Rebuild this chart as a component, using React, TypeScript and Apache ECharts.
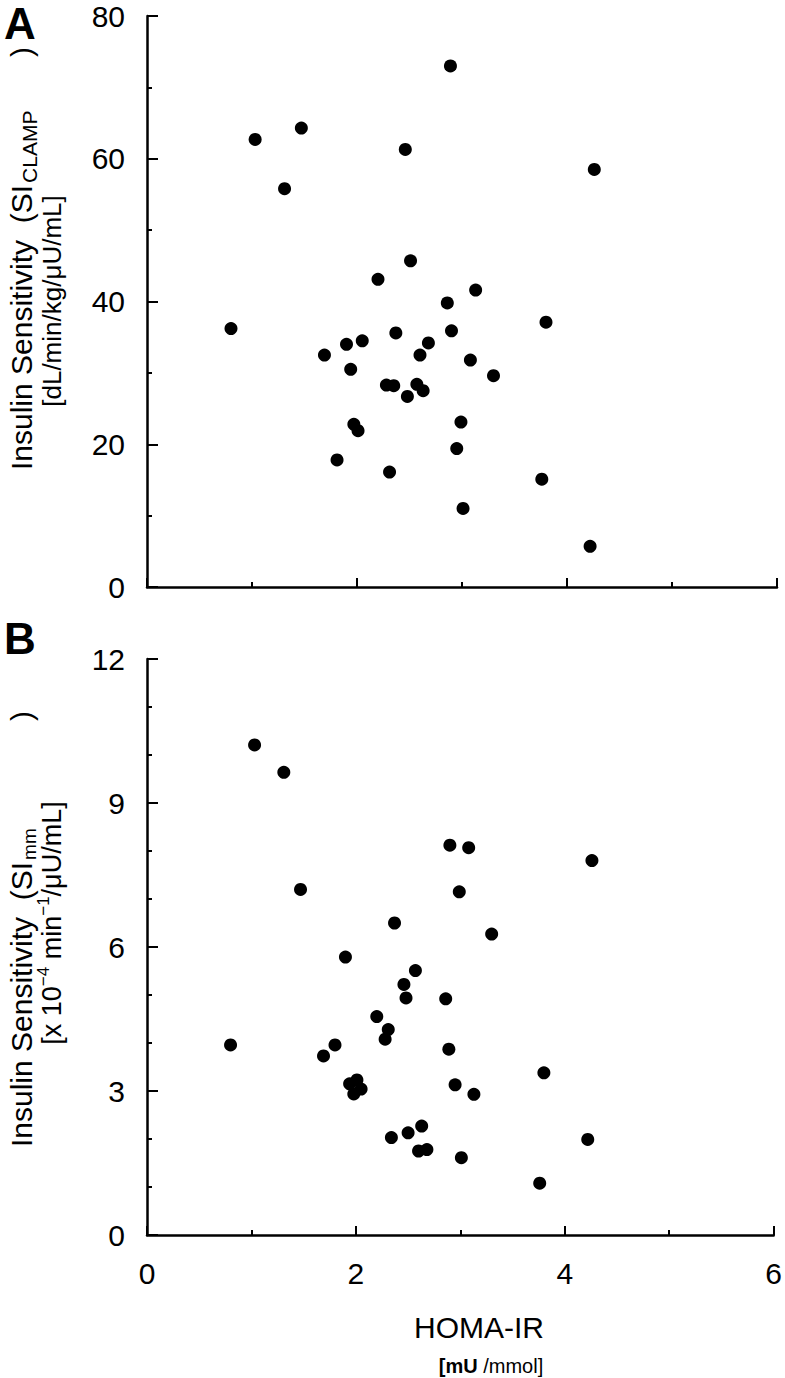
import React, { useEffect, useRef } from "react";
import * as echarts from "echarts";

// Panel A: HOMA-IR vs SI(clamp)
const homaA = [2.89, 1.03, 1.47, 2.46, 1.31, 4.26, 2.51, 2.2, 3.13, 2.86, 3.8, 0.8, 2.9, 2.37, 2.05, 1.9, 2.68, 1.69, 2.6, 3.08, 1.94, 3.3, 2.28, 2.35, 2.57, 2.63, 2.48, 1.97, 2.01, 2.99, 2.95, 1.81, 2.31, 3.76, 3.01, 4.22];
const siClamp = [73.0, 62.7, 64.3, 61.3, 55.8, 58.5, 45.7, 43.1, 41.6, 39.8, 37.1, 36.2, 35.9, 35.6, 34.5, 34.0, 34.2, 32.5, 32.5, 31.8, 30.5, 29.6, 28.3, 28.2, 28.4, 27.5, 26.7, 22.8, 21.9, 23.1, 19.4, 17.8, 16.1, 15.1, 11.0, 5.7];

// Panel B: HOMA-IR vs SI(mm)
const homaB = [1.03, 1.31, 2.9, 3.08, 2.99, 1.47, 2.37, 3.3, 1.9, 4.26, 3.8, 4.22, 3.76, 2.57, 2.46, 2.48, 2.86, 2.2, 2.31, 2.28, 0.8, 1.8, 1.69, 2.89, 1.94, 2.01, 2.05, 1.98, 2.95, 3.13, 2.63, 2.5, 2.34, 2.6, 2.68, 3.01];
const siMM = [10.21, 9.64, 8.12, 8.07, 7.15, 7.2, 6.5, 6.27, 5.79, 7.8, 3.38, 1.99, 1.08, 5.51, 5.22, 4.94, 4.92, 4.55, 4.28, 4.08, 3.96, 3.96, 3.73, 3.87, 3.15, 3.23, 3.04, 2.94, 3.13, 2.93, 2.27, 2.13, 2.03, 1.75, 1.78, 1.61];

const xRange = [0, 6];
const xStep = 2;
const yRangeA = [0, 80];
const yStepA = 20;
const yRangeB = [0, 12];
const yStepB = 3;

const FONT = '"Liberation Sans", Arial, Helvetica, sans-serif';

function measure(text: string, size: number, weight = "normal") {
  const c = document.createElement("canvas").getContext("2d")!;
  c.font = `${weight} ${size}px ${FONT}`;
  return c.measureText(text).width;
}

export default function App() {
  const ref = useRef<HTMLDivElement>(null);

  useEffect(() => {
    if (!ref.current) return;
    const chart = echarts.init(ref.current, undefined, { renderer: "svg" });

    const axisLine = { show: true, lineStyle: { color: "#000", width: 2.5 } };
    const label = { color: "#000", fontSize: 30, lineHeight: 26, fontFamily: FONT };

    const mkX = (gridIndex: number, showLabel: boolean) => ({
      type: "value",
      gridIndex,
      min: xRange[0],
      max: xRange[1],
      interval: xStep,
      axisLine,
      axisTick: { show: true, inside: true, length: 9, lineStyle: { color: "#000", width: 2 } },
      minorTick: { show: true, splitNumber: 2, length: 5, lineStyle: { color: "#000", width: 2 } },
      splitLine: { show: false },
      axisLabel: { ...label, show: showLabel, margin: 25 },
    });
    const mkY = (gridIndex: number, range: number[], step: number, minorSplit: number) => ({
      type: "value",
      gridIndex,
      min: range[0],
      max: range[1],
      interval: step,
      axisLine,
      axisTick: { show: true, inside: true, length: 11, lineStyle: { color: "#000", width: 2 } },
      minorTick: { show: true, splitNumber: minorSplit, length: 5, lineStyle: { color: "#000", width: 2 } },
      splitLine: { show: false },
      axisLabel: { ...label, margin: 22 },
    });

    const t = (text: string, x: number, y: number, size: number, extra: any = {}) => ({
      type: "text",
      x,
      y,
      style: { text, fontSize: size, fontFamily: FONT, fill: "#000", align: "left", verticalAlign: "middle", ...extra },
    });

    const l1 = "Insulin Sensitivity  (SI";
    const w1 = measure(l1, 30);

    const titleA1 = {
      type: "group",
      x: 21,
      y: 470,
      rotation: Math.PI / 2,
      children: [
        t(l1, 0, 0, 30),
        t("CLAMP", w1 + 2, 8, 21),
        t(")", 470 - 52, 0, 30, { align: "center" }),
      ],
    };
    const titleA2 = {
      type: "text",
      x: 52,
      y: 301,
      rotation: Math.PI / 2,
      style: { text: "[dL/min/kg/\u03bcU/mL]", fontSize: 26, fontFamily: FONT, fill: "#000", align: "center", verticalAlign: "middle" },
    };

    const titleB1 = {
      type: "group",
      x: 21,
      y: 1147,
      rotation: Math.PI / 2,
      children: [
        t(l1, 0, 0, 30),
        t("mm", w1 + 2, 8, 19),
        t(")", 1147 - 716, 0, 30, { align: "center" }),
      ],
    };

    const b2parts: Array<[string, number, number]> = [
      ["[x 10", 27, 0],
      ["\u22124", 17, -9],
      [" min", 27, 0],
      ["\u22121", 17, -9],
      ["/\u03bcU/mL]", 27, 0],
    ];
    let acc = 0;
    const b2children = b2parts.map(([s, size, dy]) => {
      const el = t(s, acc, dy, size);
      acc += measure(s, size);
      return el;
    });
    const titleB2 = {
      type: "group",
      x: 52,
      y: 923 + acc / 2,
      rotation: Math.PI / 2,
      children: b2children,
    };

    const scatterStyle = { color: "#000", opacity: 1 };

    chart.setOption({
      animation: false,
      backgroundColor: "#fff",
      grid: [
        { left: 147, top: 16, width: 630, height: 571 },
        { left: 147, top: 659, width: 630, height: 576 },
      ],
      xAxis: [mkX(0, false), mkX(1, true)],
      yAxis: [mkY(0, yRangeA, yStepA, 2), mkY(1, yRangeB, yStepB, 3)],
      series: [
        {
          type: "scatter",
          xAxisIndex: 0,
          yAxisIndex: 0,
          symbol: "circle",
          symbolSize: 13,
          itemStyle: scatterStyle,
          data: homaA.map((x, i) => [x, siClamp[i]]),
        },
        {
          type: "scatter",
          xAxisIndex: 1,
          yAxisIndex: 1,
          symbol: "circle",
          symbolSize: 13,
          itemStyle: scatterStyle,
          data: homaB.map((x, i) => [x, siMM[i]]),
        },
      ],
      graphic: [
        { type: "text", x: 4, y: 23, style: { text: "A", fontSize: 44, fontWeight: "bold", fontFamily: FONT, fill: "#000", verticalAlign: "middle" } },
        { type: "text", x: 4, y: 638, style: { text: "B", fontSize: 44, fontWeight: "bold", fontFamily: FONT, fill: "#000", verticalAlign: "middle" } },
        titleA1,
        titleA2,
        titleB1,
        titleB2,
        { type: "text", x: 479, y: 1327, style: { text: "HOMA-IR", fontSize: 30, fontFamily: FONT, fill: "#000", align: "center", verticalAlign: "middle" } },
        {
          type: "text",
          x: 491,
          y: 1366,
          style: {
            text: "{b|[mU }{n|/mmol]}",
            fontFamily: FONT,
            fill: "#000",
            align: "center",
            verticalAlign: "middle",
            rich: {
              b: { fontSize: 20, fontWeight: "bold", fontFamily: FONT, fill: "#000" },
              n: { fontSize: 20, fontFamily: FONT, fill: "#000" },
            },
          },
        },
      ],
    });

    return () => chart.dispose();
  }, []);

  return <div ref={ref} style={{ position: "absolute", left: 0, top: 0, width: 785, height: 1378 }} />;
}
